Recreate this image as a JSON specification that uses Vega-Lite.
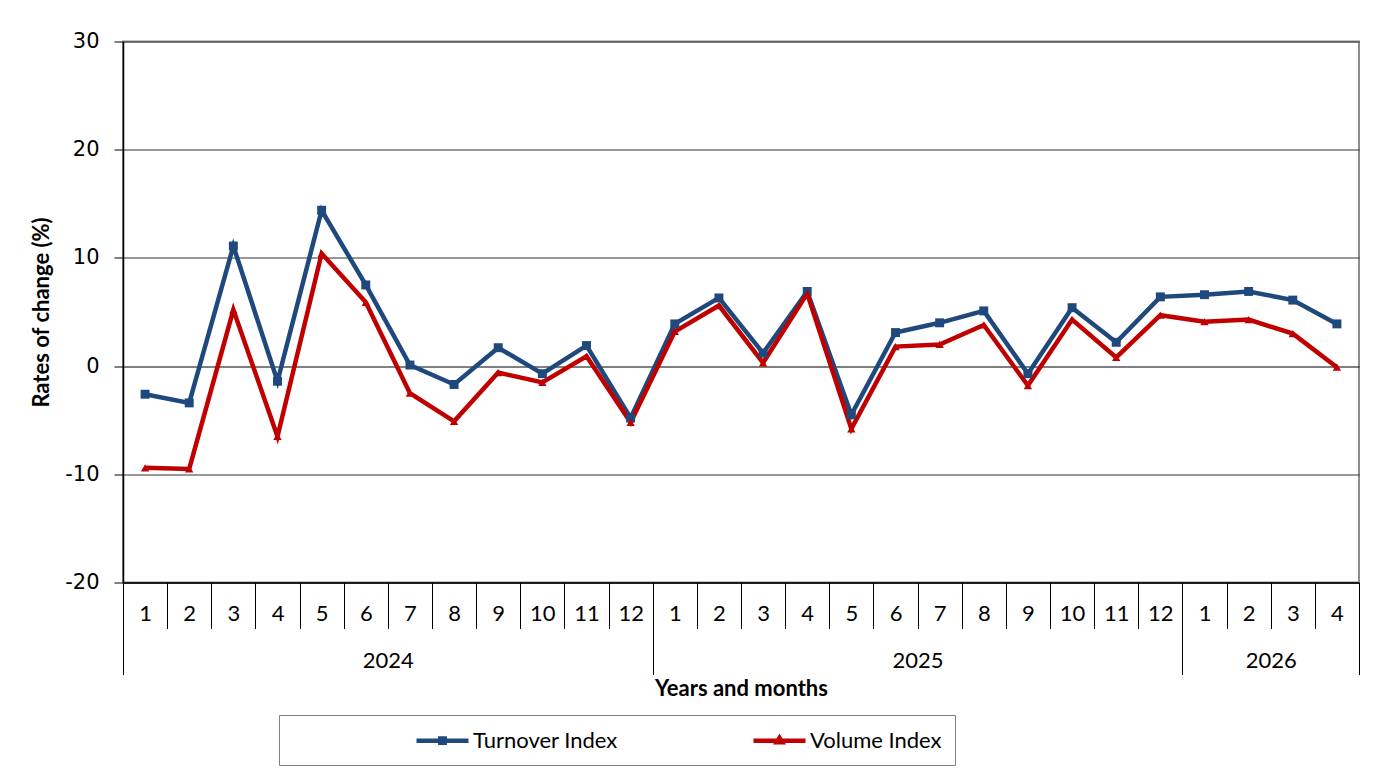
{
  "$schema": "https://vega.github.io/schema/vega-lite/v6.json",
  "width": 1236,
  "height": 541,
  "autosize": {"type": "none"},
  "padding": {"left": 123, "top": 41.5, "right": 16, "bottom": 193.5},
  "background": "white",
  "config": {
    "view": {"stroke": "#8c8c8c", "strokeWidth": 2},
    "font": "Lato"
  },
  "data": {
    "values": [
      {"period": "2024-01", "series": "Turnover Index", "value": -2.6},
      {"period": "2024-02", "series": "Turnover Index", "value": -3.4},
      {"period": "2024-03", "series": "Turnover Index", "value": 11.1},
      {"period": "2024-04", "series": "Turnover Index", "value": -1.4},
      {"period": "2024-05", "series": "Turnover Index", "value": 14.4},
      {"period": "2024-06", "series": "Turnover Index", "value": 7.5},
      {"period": "2024-07", "series": "Turnover Index", "value": 0.1},
      {"period": "2024-08", "series": "Turnover Index", "value": -1.7},
      {"period": "2024-09", "series": "Turnover Index", "value": 1.7},
      {"period": "2024-10", "series": "Turnover Index", "value": -0.7},
      {"period": "2024-11", "series": "Turnover Index", "value": 1.9},
      {"period": "2024-12", "series": "Turnover Index", "value": -4.8},
      {"period": "2025-01", "series": "Turnover Index", "value": 3.9},
      {"period": "2025-02", "series": "Turnover Index", "value": 6.3},
      {"period": "2025-03", "series": "Turnover Index", "value": 1.2},
      {"period": "2025-04", "series": "Turnover Index", "value": 6.9},
      {"period": "2025-05", "series": "Turnover Index", "value": -4.5},
      {"period": "2025-06", "series": "Turnover Index", "value": 3.1},
      {"period": "2025-07", "series": "Turnover Index", "value": 4.0},
      {"period": "2025-08", "series": "Turnover Index", "value": 5.1},
      {"period": "2025-09", "series": "Turnover Index", "value": -0.7},
      {"period": "2025-10", "series": "Turnover Index", "value": 5.4},
      {"period": "2025-11", "series": "Turnover Index", "value": 2.2},
      {"period": "2025-12", "series": "Turnover Index", "value": 6.4},
      {"period": "2026-01", "series": "Turnover Index", "value": 6.6},
      {"period": "2026-02", "series": "Turnover Index", "value": 6.9},
      {"period": "2026-03", "series": "Turnover Index", "value": 6.1},
      {"period": "2026-04", "series": "Turnover Index", "value": 3.9},
      {"period": "2024-01", "series": "Volume Index", "value": -9.4},
      {"period": "2024-02", "series": "Volume Index", "value": -9.5},
      {"period": "2024-03", "series": "Volume Index", "value": 5.2},
      {"period": "2024-04", "series": "Volume Index", "value": -6.5},
      {"period": "2024-05", "series": "Volume Index", "value": 10.4},
      {"period": "2024-06", "series": "Volume Index", "value": 5.9},
      {"period": "2024-07", "series": "Volume Index", "value": -2.5},
      {"period": "2024-08", "series": "Volume Index", "value": -5.1},
      {"period": "2024-09", "series": "Volume Index", "value": -0.6},
      {"period": "2024-10", "series": "Volume Index", "value": -1.5},
      {"period": "2024-11", "series": "Volume Index", "value": 0.9},
      {"period": "2024-12", "series": "Volume Index", "value": -5.2},
      {"period": "2025-01", "series": "Volume Index", "value": 3.2},
      {"period": "2025-02", "series": "Volume Index", "value": 5.6},
      {"period": "2025-03", "series": "Volume Index", "value": 0.3},
      {"period": "2025-04", "series": "Volume Index", "value": 6.7},
      {"period": "2025-05", "series": "Volume Index", "value": -5.8},
      {"period": "2025-06", "series": "Volume Index", "value": 1.8},
      {"period": "2025-07", "series": "Volume Index", "value": 2.0},
      {"period": "2025-08", "series": "Volume Index", "value": 3.8},
      {"period": "2025-09", "series": "Volume Index", "value": -1.8},
      {"period": "2025-10", "series": "Volume Index", "value": 4.3},
      {"period": "2025-11", "series": "Volume Index", "value": 0.8},
      {"period": "2025-12", "series": "Volume Index", "value": 4.7},
      {"period": "2026-01", "series": "Volume Index", "value": 4.1},
      {"period": "2026-02", "series": "Volume Index", "value": 4.3},
      {"period": "2026-03", "series": "Volume Index", "value": 3.0},
      {"period": "2026-04", "series": "Volume Index", "value": -0.1}
    ]
  },
  "layer": [
    {
      "mark": {"type": "line", "strokeWidth": 4.5, "strokeJoin": "miter"},
      "encoding": {
        "x": {
          "field": "period", "type": "ordinal", "bandPosition": 0.5,
          "scale": {"type": "band", "paddingInner": 0, "paddingOuter": 0},
          "axis": {
            "orient": "bottom",
            "tickBand": "extent", "tickSize": 46, "tickColor": "#000", "tickWidth": 1,
            "domain": true, "domainColor": "#000", "domainWidth": 1.5,
            "labelExpr": "isString(datum.value) ? '' + toNumber(slice(datum.value, 5)) : ''",
            "labelFont": "Lato", "labelFontSize": 22, "labelColor": "#000",
            "labelAngle": 0, "labelBaseline": "middle", "labelPadding": -15,
            "labelOverlap": false, "labelBound": false, "title": null, "grid": false
          }
        },
        "y": {
          "field": "value", "type": "quantitative",
          "scale": {"domain": [-20, 30], "nice": false, "zero": false},
          "axis": {
            "values": [-20, -10, 0, 10, 20, 30],
            "labelExpr": "'' + datum.value",
            "title": "Rates of change (%)",
            "titleFont": "Lato", "titleFontSize": 22, "titleFontWeight": "bold",
            "titleColor": "#000", "titlePadding": 11,
            "domainColor": "#000", "domainWidth": 1.5,
            "tickColor": "#000", "tickSize": 9,
            "labelFont": "DejaVu Sans", "labelFontSize": 21, "labelColor": "#000",
            "labelPadding": 15,
            "grid": true,
            "gridColor": {"condition": {"test": "datum.value === 0", "value": "#000"}, "value": "#333333"},
            "gridWidth": 1
          }
        },
        "color": {
          "field": "series", "type": "nominal",
          "scale": {"domain": ["Turnover Index", "Volume Index"], "range": ["#1F497D", "#C00000"]},
          "legend": {
            "orient": "none", "legendX": 156, "legendY": 673.5,
            "direction": "horizontal", "columns": 2, "gridAlign": "each",
            "title": null,
            "strokeColor": "#808080", "padding": 13,
            "symbolSize": 400, "symbolOffset": 138, "labelOffset": 18,
            "columnPadding": 11,
            "labelFont": "Lato", "labelFontSize": 22, "labelColor": "#000", "labelLimit": 400,
            "symbolType": {"expr": "datum.value === 'Turnover Index' ? 'M-2.6,0H2.6M-0.22,-0.22H0.22V0.22H-0.22Z' : 'M-2.6,0H2.6M0,-0.28L0.26,0.16H-0.26Z'"},
            "symbolFillColor": "transparent",
            "symbolStrokeWidth": 4.5,
            "encode": {
              "entries": {
                "update": {
                  "fill": {"value": "transparent"},
                  "width": {"signal": "datum.value === 'Volume Index' ? 433 : 0"}
                }
              }
            }
          }
        }
      }
    },
    {
      "transform": [{"filter": "datum.series === 'Turnover Index'"}],
      "mark": {"type": "point", "filled": true, "opacity": 1, "size": 80, "shape": "square"},
      "encoding": {
        "x": {
          "field": "period", "type": "ordinal", "bandPosition": 0.5,
          "scale": {"type": "band", "paddingInner": 0, "paddingOuter": 0},
          "axis": {
            "orient": "bottom",
            "tickBand": "extent", "tickSize": 92, "tickColor": "#000", "tickWidth": 1,
            "tickOpacity": {"condition": {"test": "datum.extra || indexof(['2024-12', '2025-12', '2026-04'], datum.value) >= 0", "value": 1}, "value": 0},
            "domain": false,
            "labelExpr": "datum.value === '2024-06' ? '2024' : datum.value === '2025-06' ? '2025' : datum.value === '2026-02' ? '2026' : ''",
            "labelOffset": 22.07,
            "labelFont": "Lato", "labelFontSize": 22, "labelColor": "#000",
            "labelAngle": 0, "labelBaseline": "middle", "labelPadding": -14,
            "labelOverlap": false, "labelBound": false,
            "title": "Years and months",
            "titleFont": "Lato", "titleFontSize": 22, "titleFontWeight": "bold",
            "titleColor": "#000", "titlePadding": 3,
            "grid": false
          }
        },
        "y": {"field": "value", "type": "quantitative"},
        "color": {"field": "series", "type": "nominal", "legend": null}
      }
    },
    {
      "transform": [{"filter": "datum.series === 'Volume Index'"}],
      "mark": {"type": "point", "filled": true, "opacity": 1, "size": 70, "shape": "triangle-up"},
      "encoding": {
        "x": {
          "field": "period", "type": "ordinal", "bandPosition": 0.5,
          "scale": {"type": "band", "paddingInner": 0, "paddingOuter": 0},
          "axis": null
        },
        "y": {"field": "value", "type": "quantitative"},
        "color": {"field": "series", "type": "nominal", "legend": null}
      }
    }
  ],
  "resolve": {"axis": {"x": "independent"}}
}
